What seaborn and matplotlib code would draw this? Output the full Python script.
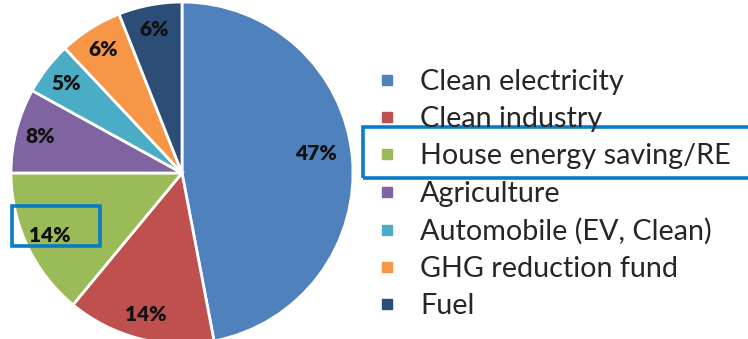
import matplotlib
matplotlib.use("Agg")
import matplotlib.pyplot as plt
from matplotlib.lines import Line2D
from matplotlib.patches import Rectangle
import numpy as np
import seaborn as sns

# Budget shares by programme (percent)
categories = ["Clean electricity", "Clean industry", "House energy saving/RE",
              "Agriculture", "Automobile (EV, Clean)", "GHG reduction fund", "Fuel"]
shares = [47, 14, 14, 8, 5, 6, 6]
pct_labels = ["47%", "14%", "14%", "8%", "5%", "6%", "6%"]
colors = ["#4F81BD", "#C0504D", "#9BBB59", "#8064A2", "#4BACC6", "#F79646", "#2C4D75"]

sns.set_theme(style="white")
plt.rcParams["font.family"] = ["Lato", "DejaVu Sans"]
palette = sns.color_palette(colors)

W, H = 748, 339
fig = plt.figure(figsize=(W / 100, H / 100), dpi=100)

# Pie axes: square box in pixels, centre (182, 173), radius 171
cx, cy, r = 182, 173, 171
ax = fig.add_axes([(cx - r) / W, (H - cy - r) / H, 2 * r / W, 2 * r / H])
wedges, _ = ax.pie(shares, colors=palette, startangle=90, counterclock=False,
                   radius=1.0, wedgeprops=dict(edgecolor="white", linewidth=2))
ax.set_xlim(-1, 1)
ax.set_ylim(-1, 1)
ax.set_aspect("auto")
ax.axis("off")

# Percent labels at wedge mid-angles
for w, lab, share in zip(wedges, pct_labels, shares):
    ang = np.deg2rad((w.theta1 + w.theta2) / 2)
    dist = 0.79 if share > 40 else 0.855
    y_shift = 0.04 if share > 40 else 0.0
    ax.text(dist * np.cos(ang), dist * np.sin(ang) + y_shift, lab,
            ha="center", va="center", fontsize=15, fontweight="heavy", color="#111111")

# Legend with small square markers
handles = [Line2D([0], [0], marker="s", linestyle="none", markersize=7.5,
                  markerfacecolor=c, markeredgecolor=c) for c in palette]
fig.legend(handles, categories, loc="center left",
           bbox_to_anchor=(377 / W, 1 - 194 / H), frameon=False, fontsize=20.7,
           handlelength=0.7, handletextpad=0.8, labelspacing=0.39,
           borderpad=0, borderaxespad=0)

# Blue highlight boxes around the green slice label and its legend entry
box_color = "#0A7BC8"
fig.add_artist(Rectangle((12 / W, 1 - 246 / H), 88 / W, 40 / H,
                         transform=fig.transFigure, fill=False,
                         edgecolor=box_color, linewidth=2.6))
fig.add_artist(Rectangle((363 / W, 1 - 178 / H), 400 / W, 51 / H,
                         transform=fig.transFigure, fill=False,
                         edgecolor=box_color, linewidth=2.6, clip_on=False))

fig.savefig("out.png", dpi=100)
